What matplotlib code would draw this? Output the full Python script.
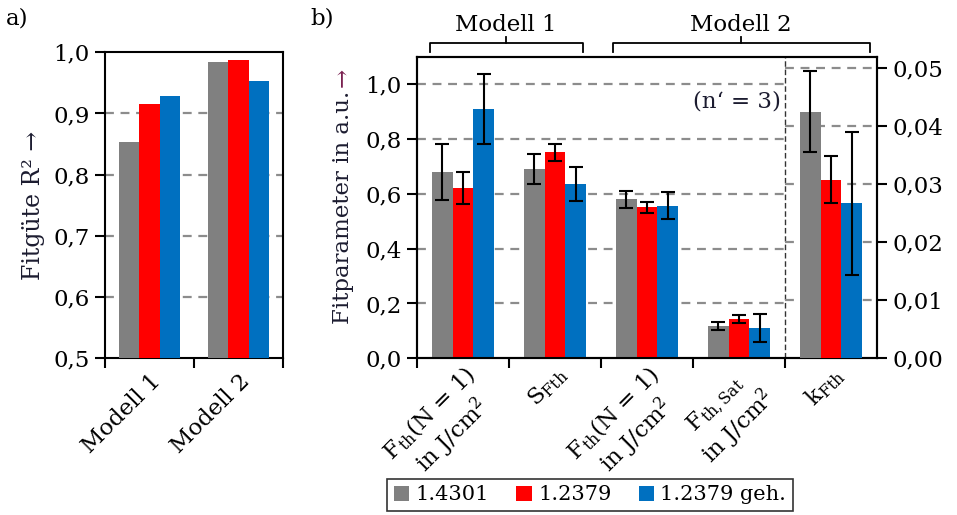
import matplotlib
matplotlib.use("Agg")
import matplotlib.pyplot as plt
import numpy as np
from matplotlib.patches import Patch

plt.rcParams['font.family'] = ['DejaVu Serif']
plt.rcParams['mathtext.fontset'] = 'dejavuserif'

TEXT = '#1c1c30'
ARROW = '#7a2050'
COLORS = ['#808080', '#ff0000', '#0070c0']
GRID = '#8c8c8c'
FS = 16.5

materials = ['1.4301', '1.2379', '1.2379 geh.']

# --- panel a: goodness of fit ---
models = ['Modell 1', 'Modell 2']
r2 = {
    '1.4301':      [0.854, 0.984],
    '1.2379':      [0.916, 0.988],
    '1.2379 geh.': [0.929, 0.953],
}

# --- panel b: fit parameters ---
params = [r'F$_{\mathrm{th}}$(N = 1)' + '\n' + r'in J/cm$^2$',
          r'S$_{\mathrm{Fth}}$',
          r'F$_{\mathrm{th}}$(N = 1)' + '\n' + r'in J/cm$^2$',
          r'F$_{\mathrm{th,Sat}}$' + '\n' + r'in J/cm$^2$',
          r'k$_{\mathrm{Fth}}$']
# first four parameters on left axis
par_vals = {
    '1.4301':      [0.680, 0.690, 0.580, 0.119],
    '1.2379':      [0.620, 0.751, 0.550, 0.142],
    '1.2379 geh.': [0.909, 0.635, 0.557, 0.110],
}
par_errs = {
    '1.4301':      [0.102, 0.055, 0.031, 0.014],
    '1.2379':      [0.059, 0.031, 0.020, 0.015],
    '1.2379 geh.': [0.129, 0.061, 0.049, 0.050],
}
# k_Fth on right axis
k_vals = {'1.4301': 0.0425, '1.2379': 0.0308, '1.2379 geh.': 0.0267}
k_errs = {'1.4301': 0.0070, '1.2379': 0.0041, '1.2379 geh.': 0.0123}

W, H = 957, 515
fig = plt.figure(figsize=(W / 100, H / 100), dpi=100)


def px_axes(left, top, right, bottom):
    return fig.add_axes([left / W, 1 - bottom / H, (right - left) / W, (bottom - top) / H])


bw = 0.225
offsets = np.array([-1, 0, 1]) * bw

# ===== panel a =====
axa = px_axes(105, 52.3, 283, 358)
xa = np.arange(len(models))
for i, m in enumerate(materials):
    axa.bar(xa + offsets[i], r2[m], bw, color=COLORS[i], zorder=3, bottom=0)
axa.set_ylim(0.5, 1.0)
axa.set_xlim(-0.5, len(models) - 0.5)
axa.set_yticks(np.arange(0.5, 1.01, 0.1))
axa.set_yticklabels([f'{v:.1f}'.replace('.', ',') for v in np.arange(0.5, 1.01, 0.1)])
for v in np.arange(0.6, 0.95, 0.1):
    axa.axhline(v, color=GRID, lw=1.6, ls=(0, (4, 3)), zorder=1)
axa.set_xticks(xa)
axa.set_xticklabels(models, rotation=45, ha='right', va='top', rotation_mode='anchor')
axa.tick_params(axis='x', which='major', length=0, pad=9)
axa.set_xticks(np.arange(-0.5, len(models), 1), minor=True)
axa.tick_params(axis='x', which='minor', length=7, width=1.5, direction='out')
axa.tick_params(axis='y', length=7, width=1.5, direction='out', pad=4)
axa.tick_params(labelsize=FS, colors='black')
for s in axa.spines.values():
    s.set_linewidth(1.5)
axa.set_ylabel('Fitgüte R² →', fontsize=FS + 0.5, color=TEXT, labelpad=6)
fig.text(6 / W, 1 - 18 / H, 'a)', fontsize=FS, color='black', va='center')

# ===== panel b =====
axb = px_axes(417, 56.7, 877, 358.3)
xb = np.arange(4)
for i, m in enumerate(materials):
    axb.bar(xb + offsets[i], par_vals[m], bw, color=COLORS[i], zorder=3,
            yerr=par_errs[m], capsize=5,
            error_kw=dict(ecolor='black', elinewidth=1.5, capthick=1.5, zorder=4))
axb.set_xlim(-0.5, 4.5)
axb.set_ylim(0, 1.1)
yt = np.arange(0, 1.01, 0.2)
axb.set_yticks(yt)
axb.set_yticklabels([f'{v:.1f}'.replace('.', ',') for v in yt])
for v in yt[1:]:
    axb.plot([-0.5, 3.5], [v, v], color=GRID, lw=1.6, ls=(0, (4, 3)), zorder=1)
axb.axvline(3.5, color='#333333', lw=1.0, ls=(0, (4, 2)), zorder=2)
axb.set_xticks(np.arange(5))
axb.set_xticklabels(params, rotation=45, ha='right', va='top',
                    rotation_mode='anchor', multialignment='center')
axb.tick_params(axis='x', which='major', length=0, pad=3)
axb.set_xticks(np.arange(-0.5, 4.0, 1), minor=True)
axb.tick_params(axis='x', which='minor', length=7, width=1.5, direction='out')
axb.tick_params(axis='y', length=7, width=1.5, direction='out', pad=4)
axb.tick_params(labelsize=FS, colors='black')
for s in axb.spines.values():
    s.set_linewidth(1.5)
ylab = axb.set_ylabel('Fitparameter in a.u.', fontsize=FS, color=TEXT, labelpad=8)
axb.text(3.45, 0.935, '(n‘ = 3)', fontsize=FS, ha='right', va='center', color=TEXT, zorder=5)

# right axis for k_Fth
axr = axb.twinx()
axr.set_ylim(0, 0.052)
rt = np.arange(0, 0.051, 0.01)
axr.set_yticks(rt)
axr.set_yticklabels([f'{v:.2f}'.replace('.', ',') for v in rt])
axr.tick_params(axis='y', length=7, width=1.5, direction='out', labelsize=FS, pad=4)
for v in rt[1:]:
    axr.plot([3.5, 4.5], [v, v], color=GRID, lw=1.6, ls=(0, (4, 3)), zorder=1)
for i, m in enumerate(materials):
    axr.bar(4 + offsets[i], k_vals[m], bw, color=COLORS[i], zorder=3,
            yerr=k_errs[m], capsize=5,
            error_kw=dict(ecolor='black', elinewidth=1.5, capthick=1.5, zorder=4))
for s in axr.spines.values():
    s.set_linewidth(1.5)

# model brackets above panel b
trans = axb.get_xaxis_transform()


def bracket(x0, x1, label):
    y0, y1 = 1.015, 1.045
    xm = (x0 + x1) / 2
    axb.plot([x0, x0, x1, x1], [y0, y1, y1, y0], color='black', lw=1.3,
             transform=trans, clip_on=False)
    axb.plot([xm, xm], [y1, y1 + 0.02], color='black', lw=1.3,
             transform=trans, clip_on=False)
    axb.text(xm, y1 + 0.022, label, transform=trans, ha='center', va='bottom',
             fontsize=FS, color='black')


bracket(-0.36, 1.30, 'Modell 1')
bracket(1.63, 4.42, 'Modell 2')

fig.text(310 / W, 1 - 18 / H, 'b)', fontsize=FS, color='black', va='center')

# legend
handles = [Patch(facecolor=c, edgecolor='none') for c in COLORS]
leg = fig.legend(handles, materials, loc='center', bbox_to_anchor=(590 / W, 1 - 495 / H),
                 ncol=3, fontsize=15, frameon=True, fancybox=False, edgecolor='black',
                 handlelength=0.75, handleheight=0.75, handletextpad=0.3, columnspacing=1.3,
                 borderpad=0.3)
leg.get_frame().set_linewidth(1.2)

# coloured arrow continuing the y label of panel b
fig.canvas.draw()
bb = ylab.get_window_extent()
xc = (bb.x0 + bb.x1) / 2 / W
ytop = bb.y1 / H
fig.text(xc, ytop + 4 / H, '→', rotation=90, fontsize=FS, color=ARROW,
         ha='center', va='bottom')

fig.savefig('out.png', dpi=100)
